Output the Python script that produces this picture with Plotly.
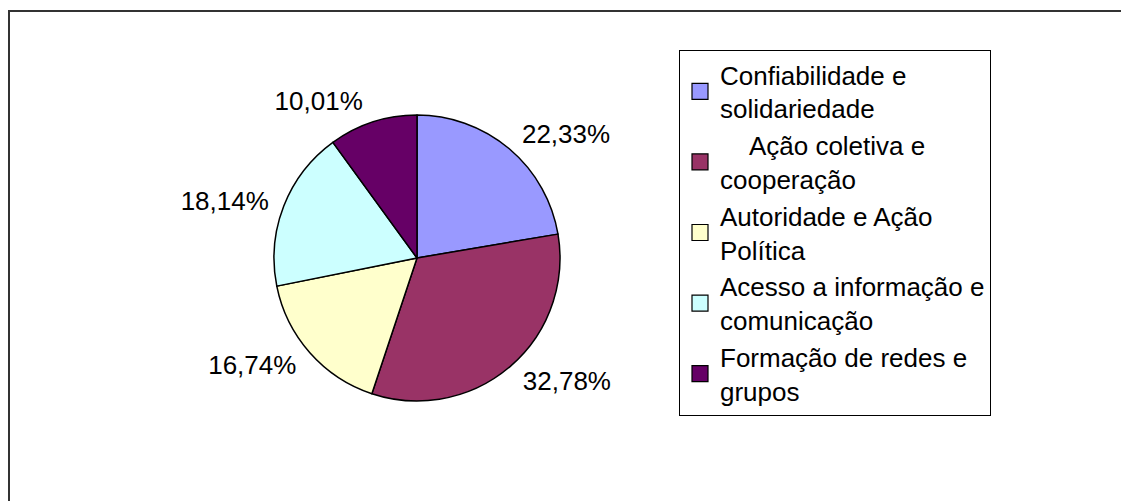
import plotly.graph_objects as go

categories = [
    "Confiabilidade e<br>solidariedade",
    "\u00a0\u00a0\u00a0\u00a0Ação coletiva e<br>cooperação",
    "Autoridade e Ação<br>Política",
    "Acesso a informação e<br>comunicação",
    "Formação de redes e<br>grupos",
]
values = [22.33, 32.78, 16.74, 18.14, 10.01]
colors = ["#9999FF", "#993366", "#FFFFCC", "#CCFFFF", "#660066"]

W, H = 1121, 501
cx, cy, r = 417, 258, 143
r_lab = 151
FONT = "Arial, Liberation Sans, sans-serif"


def dom(rad):
    return dict(x=[(cx - rad) / W, (cx + rad) / W], y=[1 - (cy + rad) / H, 1 - (cy - rad) / H])


fig = go.Figure()
# slices
fig.add_trace(
    go.Pie(
        labels=categories,
        values=values,
        sort=False,
        direction="clockwise",
        rotation=0,
        marker=dict(colors=colors, line=dict(color="black", width=1.5)),
        textinfo="none",
        domain=dom(r),
        hoverinfo="label+value",
        showlegend=False,
    )
)
# percentage labels, placed by a transparent ring slightly larger than the pie
fig.add_trace(
    go.Pie(
        labels=categories,
        values=values,
        sort=False,
        direction="clockwise",
        rotation=0,
        hole=0.9,
        marker=dict(colors=["rgba(0,0,0,0)"] * len(values), line=dict(width=0)),
        texttemplate="%{value:.2f}%",
        textposition="outside",
        textfont=dict(family=FONT, size=26, color="black"),
        domain=dom(r_lab),
        hoverinfo="skip",
        showlegend=False,
    )
)

# legend entries with square swatches
for name, col in zip(categories, colors):
    fig.add_trace(
        go.Scatter(
            x=[None],
            y=[None],
            mode="markers",
            name=name,
            marker=dict(symbol="square", size=18, color=col, line=dict(color="black", width=1.2)),
            showlegend=True,
            hoverinfo="skip",
        )
    )

fig.update_layout(
    width=W,
    height=H,
    margin=dict(l=0, r=0, t=0, b=0),
    paper_bgcolor="white",
    plot_bgcolor="white",
    separators=",.",
    font=dict(family=FONT, size=26, color="black"),
    xaxis=dict(visible=False),
    yaxis=dict(visible=False),
    legend=dict(
        x=679 / W,
        y=1 - 50 / H,
        xanchor="left",
        yanchor="top",
        bordercolor="black",
        borderwidth=1,
        bgcolor="white",
        font=dict(family=FONT, size=26, color="black"),
        traceorder="normal",
    ),
    shapes=[
        dict(
            type="rect",
            xref="paper",
            yref="paper",
            x0=9 / W,
            x1=1.05,
            y0=-0.05,
            y1=1 - 11 / H,
            line=dict(color="#333333", width=2),
            layer="below",
        )
    ],
)

fig.write_html(
    "out.html",
    config={"displayModeBar": False},
    post_script="document.body.style.margin='0';document.body.style.overflow='hidden';",
)
